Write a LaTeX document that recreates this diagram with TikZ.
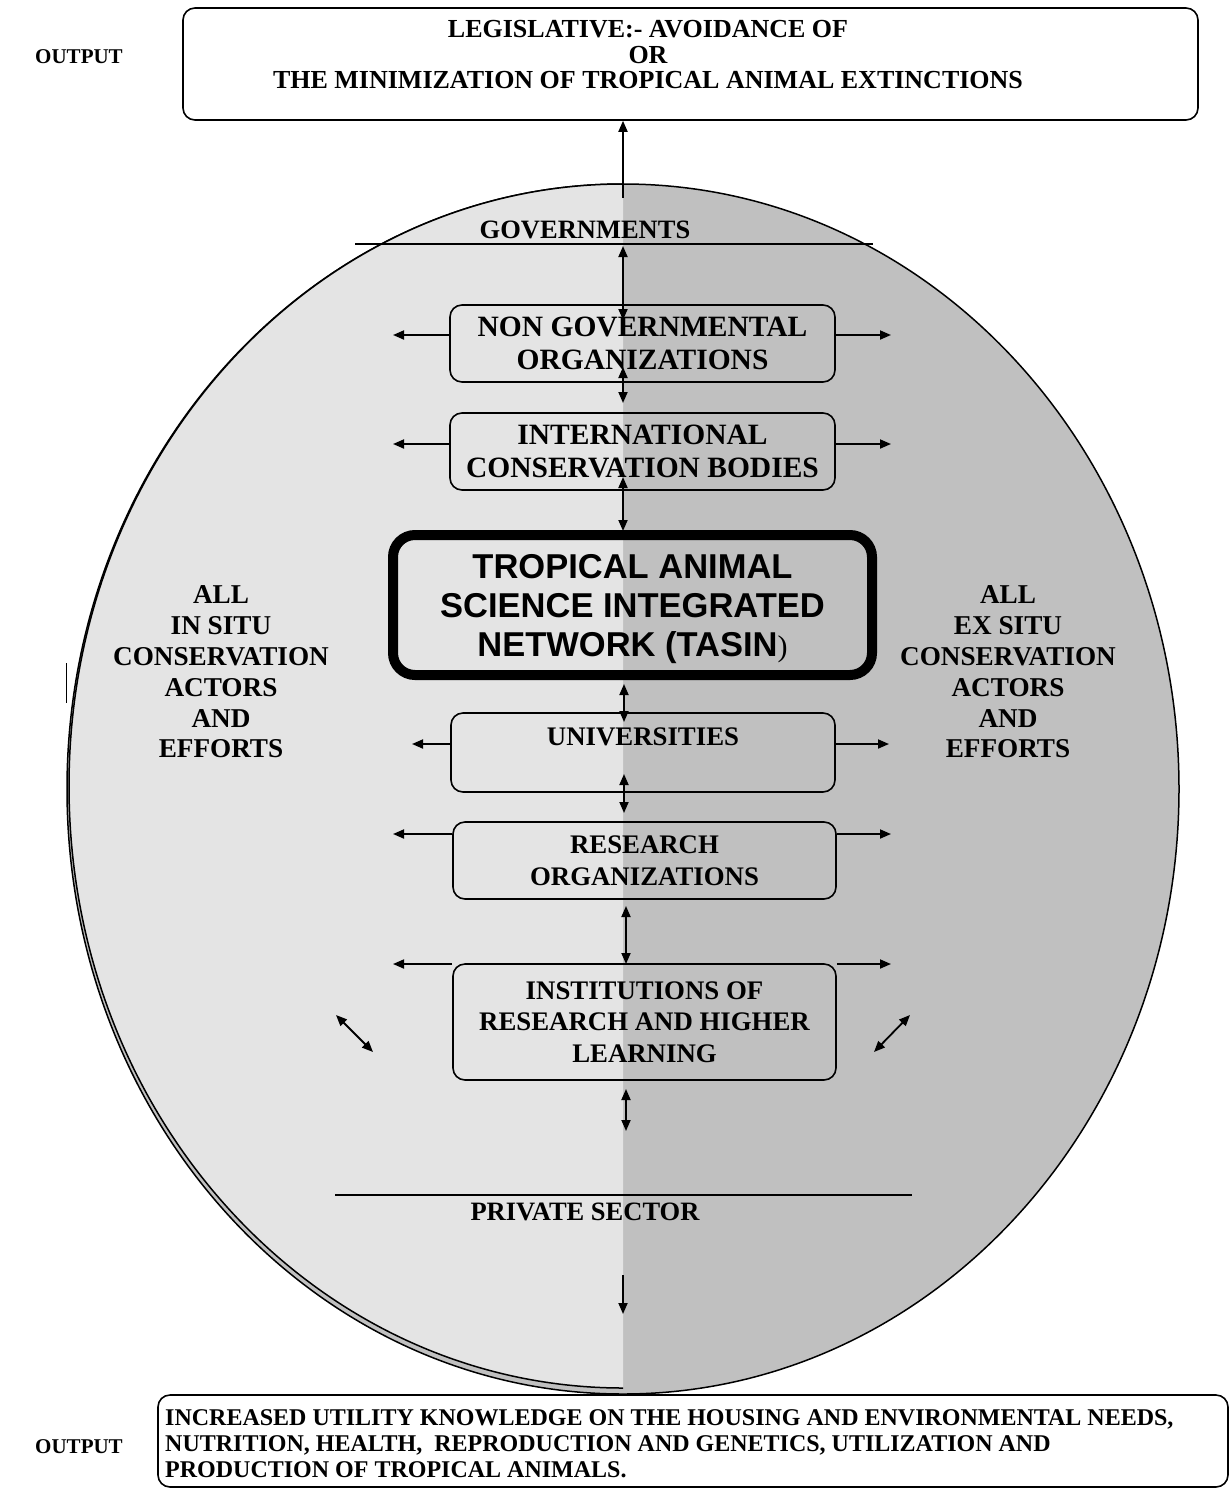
\documentclass[tikz,border=0pt]{standalone}
\usepackage{fontspec}
\setmainfont{Liberation Serif}
\newfontfamily\arialfont{Liberation Sans}
\usetikzlibrary{arrows.meta}
\definecolor{lightshade}{HTML}{E4E4E4}
\definecolor{darkshade}{HTML}{C0C0C0}
\newcommand\myfs[2]{\fontsize{#1}{#2}\selectfont}
\begin{document}
\begin{tikzpicture}[x=1pt,y=-1pt,
  roundbox/.style={draw=black, line width=1.6pt, rounded corners=12pt, inner sep=0pt, align=center},
  twoway/.style={line width=1.8pt, {Triangle[length=11pt,width=9pt]}-{Triangle[length=11pt,width=9pt]}},
  oneway/.style={line width=1.8pt, -{Triangle[length=11pt,width=9pt]}},
  label/.style={font=\bfseries\myfs{26.5}{30.8}, align=center, inner sep=0pt},
  sidelabel/.style={font=\bfseries\myfs{27.2}{30.8}, align=center, inner sep=0pt},
  bigtxt/.style={font=\bfseries\myfs{29.5}{32.5}},
  midtxt/.style={font=\bfseries\myfs{26.8}{31.5}}]
\useasboundingbox (0,0) rectangle (1230,1489);

% ---- the ellipse with its two halves ----
\fill[darkshade] (623,789) ellipse [x radius=556, y radius=605];
\draw[line width=1.5pt] (623,789) ellipse [x radius=556, y radius=605];
\begin{scope}
  \clip (0,0) rectangle (623,1489);
  \fill[lightshade] (623,786) ellipse [x radius=554, y radius=602];
  \draw[line width=1.5pt] (623,786) ellipse [x radius=554, y radius=602];
\end{scope}
\draw[line width=1pt] (66,663) -- (66,703);

% ---- output boxes ----
\node[roundbox, minimum width=1015pt, minimum height=112pt] (legis) at (690.5,64) {};
\node[font=\bfseries\myfs{26}{25.5}, align=center, inner sep=0pt] (legisT) at (648,55)
  {LEGISLATIVE:- AVOIDANCE OF\\OR\\THE MINIMIZATION OF TROPICAL ANIMAL EXTINCTIONS};
\node[font=\bfseries\myfs{21}{25}, inner sep=0pt] (out1) at (79,57) {OUTPUT};

\node[roundbox, minimum width=1070pt, minimum height=92pt] (know) at (693,1441) {};
\node[font=\bfseries\myfs{24}{26}, align=left, inner sep=0pt, anchor=west] (knowT) at (165,1444)
  {INCREASED UTILITY KNOWLEDGE ON THE HOUSING AND ENVIRONMENTAL NEEDS,\\
   NUTRITION, HEALTH,\ \ REPRODUCTION AND GENETICS, UTILIZATION AND\\
   PRODUCTION OF TROPICAL ANIMALS.};
\node[font=\bfseries\myfs{21}{25}, inner sep=0pt] (out2) at (79,1447) {OUTPUT};

% ---- governments / private sector ----
\node[label] (gov) at (585,230) {GOVERNMENTS};
\coordinate (govL) at (355,244);
\coordinate (govR) at (873,244);
\draw[line width=1.6pt] (govL) -- (govR);

\node[label] (priv) at (585,1212) {PRIVATE SECTOR};
\coordinate (privL) at (335,1195);
\coordinate (privR) at (912,1195);
\draw[line width=1.6pt] (privL) -- (privR);

% ---- central boxes ----
\node[roundbox, bigtxt, minimum width=385pt, minimum height=77pt] (ngo) at (642.5,343.5)
  {NON GOVERNMENTAL\\ORGANIZATIONS};
\node[roundbox, bigtxt, minimum width=385pt, minimum height=77pt] (intl) at (642.5,451.5)
  {INTERNATIONAL\\CONSERVATION BODIES};
\node[draw=black, line width=10pt, rounded corners=22pt, minimum width=479pt, minimum height=140pt,
      inner sep=0pt] (tasin) at (632.5,605) {};
\node[align=center, inner sep=0pt, font=\arialfont\bfseries\myfs{34.5}{39}] (tasinT) at (632.5,609)
  {TROPICAL ANIMAL\\SCIENCE INTEGRATED\\NETWORK (TASIN{\rmfamily\mdseries\myfs{30}{30})}};
\node[roundbox, minimum width=384pt, minimum height=79pt] (univ) at (643,752.5) {};
\node[midtxt, inner sep=0pt] (univT) at (643,737) {UNIVERSITIES};
\node[roundbox, midtxt, minimum width=383pt, minimum height=77pt] (res) at (644.5,860.5)
  {RESEARCH\\ORGANIZATIONS};
\node[roundbox, midtxt, minimum width=383pt, minimum height=116pt] (inst) at (644.5,1022)
  {INSTITUTIONS OF\\RESEARCH AND HIGHER\\LEARNING};

% ---- side labels ----
\node[sidelabel] (insitu) at (221,672) {ALL\\IN SITU\\CONSERVATION\\ACTORS\\AND\\EFFORTS};
\node[sidelabel] (exsitu) at (1008,672) {ALL\\EX SITU\\CONSERVATION\\ACTORS\\AND\\EFFORTS};

% ---- vertical connectors ----
\coordinate (a0) at (623,198);
\draw[oneway] (a0) -- (a0 |- legis.south);
\coordinate (g1) at (623,246); \coordinate (g2) at (623,320);
\draw[twoway] (g1) -- (g2);
\coordinate (n1) at (623,367); \coordinate (n2) at (623,403);
\draw[twoway] (n1) -- (n2);
\coordinate (i1) at (623,477); \coordinate (i2) at (623,531);
\draw[twoway] (i1) -- (i2);
\coordinate (t1) at (624,684); \coordinate (t2) at (624,722);
\draw[twoway] (t1) -- (t2);
\coordinate (u1) at (624,774); \coordinate (u2) at (624,813);
\draw[twoway] (u1) -- (u2);
\coordinate (r1) at (626,906); \coordinate (r2) at (626,964);
\draw[twoway] (r1) -- (r2);
\coordinate (s1) at (626,1089); \coordinate (s2) at (626,1131);
\draw[twoway] (s1) -- (s2);
\coordinate (p1) at (623,1275); \coordinate (p2) at (623,1314);
\draw[oneway] (p1) -- (p2);

% ---- side connectors ----
\coordinate (ngoLe) at (393,335); \coordinate (ngoRe) at (891,335);
\draw[oneway] (ngoLe -| ngo.west) -- (ngoLe);
\draw[oneway] (ngoRe -| ngo.east) -- (ngoRe);
\coordinate (intLe) at (393,444); \coordinate (intRe) at (891,444);
\draw[oneway] (intLe -| intl.west) -- (intLe);
\draw[oneway] (intRe -| intl.east) -- (intRe);
\coordinate (uniLe) at (412,744); \coordinate (uniRe) at (889,744);
\draw[oneway] (uniLe -| univ.west) -- (uniLe);
\draw[oneway] (uniRe -| univ.east) -- (uniRe);
\coordinate (resLe) at (393,834); \coordinate (resRe) at (891,834);
\draw[oneway] (resLe -| res.west) -- (resLe);
\draw[oneway] (resRe -| res.east) -- (resRe);
\coordinate (insLe) at (393,964); \coordinate (insRe) at (891,964);
\draw[oneway] (insLe -| inst.west) -- (insLe);
\draw[oneway] (insRe -| inst.east) -- (insRe);

% ---- diagonal connectors ----
\coordinate (dl1) at (336,1015); \coordinate (dl2) at (373,1052);
\draw[twoway] (dl1) -- (dl2);
\coordinate (dr1) at (910,1015); \coordinate (dr2) at (874,1052);
\draw[twoway] (dr1) -- (dr2);
\end{tikzpicture}
\end{document}
